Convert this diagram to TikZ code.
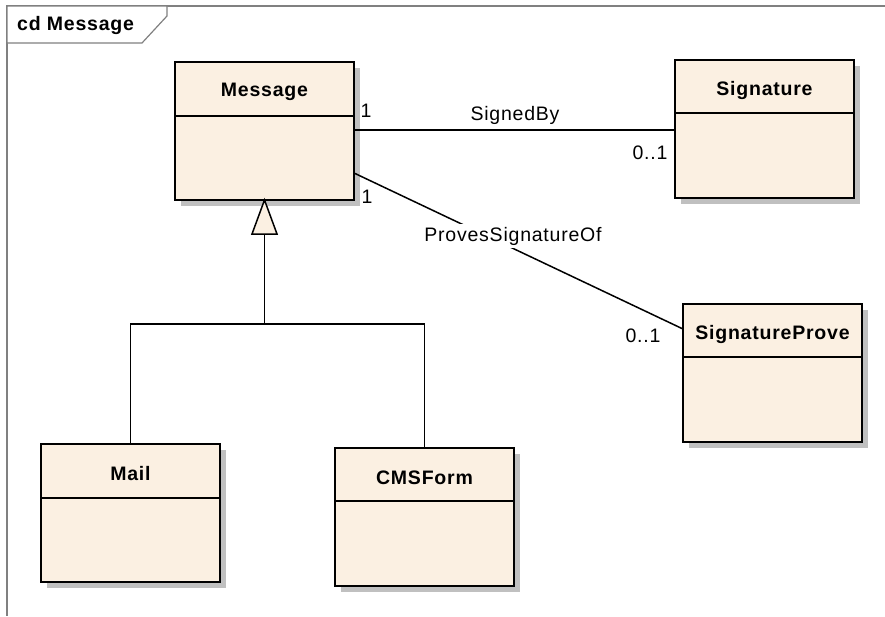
\documentclass[tikz,border=0pt]{standalone}
\usepackage{fontspec}
\setmainfont{Liberation Sans}[LetterSpace=4]
\usetikzlibrary{calc}
\definecolor{cream}{RGB}{251,240,226}
\definecolor{shadowgray}{RGB}{192,192,192}
\definecolor{framegray}{RGB}{128,128,128}
\tikzset{
  classbox/.style={draw=black, line width=2pt, fill=cream, anchor=north west,
    minimum width=179pt, minimum height=138pt, inner sep=0pt, outer sep=0pt,
    preaction={fill=shadowgray, transform canvas={xshift=6pt, yshift=-6pt}}},
  classname/.style={font=\fontsize{19.5}{22}\selectfont\bfseries, inner sep=0pt},
  lbl/.style={font=\fontsize{19.5}{22}\selectfont, inner sep=0pt},
  conn/.style={draw=black, line width=1.5pt},
  divider/.style={draw=black, line width=2pt},
}
\begin{document}
\begin{tikzpicture}[x=1pt, y=-1pt]
\useasboundingbox (0,0) rectangle (885,616);
% frame
\draw[framegray, line width=1.2pt] (885,6) -- (7,6) -- (7,616);
\draw[framegray, line width=1.2pt, fill=white] (7,6) -- (167,6) -- (167,16) -- (142,43) -- (7,43) -- cycle;
\node[classname, anchor=west] (title) at (17,25) {cd Message};

% classes
\node[classbox] (msg) at (175,62) {};
\node[classbox] (sig) at (675,60) {};
\node[classbox] (sp)  at (683,304) {};
\node[classbox] (mail) at (41,444) {};
\node[classbox] (cms) at (335,448) {};

\draw[divider] (msg.west |- 0,116) -- (msg.east |- 0,116);
\draw[divider] (sig.west |- 0,113) -- (sig.east |- 0,113);
\draw[divider] (sp.west |- 0,357) -- (sp.east |- 0,357);
\draw[divider] (mail.west |- 0,498) -- (mail.east |- 0,498);
\draw[divider] (cms.west |- 0,501) -- (cms.east |- 0,501);

\node[classname] (msgT) at ($(msg.north)+(0,30)$) {Message};
\node[classname] (sigT) at ($(sig.north)+(0,30)$) {Signature};
\node[classname] (spT) at ($(sp.north)+(0,30)$) {SignatureProve};
\node[classname] (mailT) at ($(mail.north)+(0,30)$) {Mail};
\node[classname] (cmsT) at ($(cms.north)+(0,30)$) {CMSForm};

% associations
\draw[conn] (msg.east |- 0,130) -- (sig.west |- 0,130);
\draw[conn] (msg.east |- 0,173) -- (sp.west |- 0,329);
\node[lbl, fill=white, inner sep=3pt] (proves) at (513,236) {ProvesSignatureOf};
\node[lbl] (signed) at (515,115) {SignedBy};
\node[lbl] (m1) at (366,111) {1};
\node[lbl] (m2) at (367,197) {1};
\node[lbl] (m3) at (650,153) {0..1};
\node[lbl] (m4) at (643,336) {0..1};

% generalization
\coordinate (tb) at ($(msg.south)+(0,34)$);
\coordinate (bus) at ($(msg.south)+(0,124)$);
\draw[conn, fill=cream, line join=miter] (msg.south) -- ($(tb)+(-12.5,0)$) -- ($(tb)+(12.5,0)$) -- cycle;
\draw[conn] (tb) -- (bus);
\draw[conn] (mail.north) -- (mail.north |- bus) -- (cms.north |- bus) -- (cms.north);
\end{tikzpicture}
\end{document}
